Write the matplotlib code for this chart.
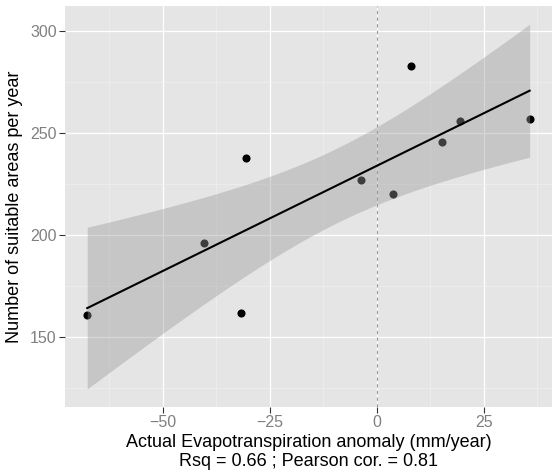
import matplotlib
matplotlib.use('Agg')
import matplotlib.pyplot as plt
import numpy as np

# данные
aet_anomaly = [-67.7, -40.3, -31.7, -30.7, -3.6, 3.7, 7.9, 15.3, 19.5, 35.7]
suitable_areas = [160.8, 195.9, 161.9, 237.9, 227.0, 220.0, 283.0, 245.9, 256.0, 257.0]

x_ticks = [-50, -25, 0, 25]
y_ticks = [150, 200, 250, 300]

plt.rcParams['font.family'] = ['Liberation Sans', 'DejaVu Sans']

x = np.array(aet_anomaly)
y = np.array(suitable_areas)
n = len(x)

# линейная регрессия + 95% доверительный интервал (как geom_smooth(method='lm'))
b, a = np.polyfit(x, y, 1)
xs = np.linspace(x.min(), x.max(), 200)
fit = a + b * xs
resid = y - (a + b * x)
s = np.sqrt(np.sum(resid ** 2) / (n - 2))
t_crit = 2.306  # t(0.975, df=8)
se = s * np.sqrt(1 / n + (xs - x.mean()) ** 2 / np.sum((x - x.mean()) ** 2))

fig = plt.figure(figsize=(5.53, 4.74), dpi=100)
ax = fig.add_axes([0.1175, 0.1414, 0.8805, 0.8456])
ax.set_facecolor('#E5E5E5')

ax.set_xticks(x_ticks)
ax.set_yticks(y_ticks)
ax.set_xticks([-62.5, -37.5, -12.5, 12.5, 37.5], minor=True)
ax.set_yticks([125, 175, 225, 275], minor=True)
ax.grid(True, which='major', color='white', lw=0.9)
ax.grid(True, which='minor', color='#F0F0F0', lw=0.5)
ax.set_axisbelow(True)

ax.axvline(0, color='#999999', lw=0.8, ls=(0, (3, 3)), zorder=1)
ax.scatter(x, y, s=34, color='black', zorder=2, linewidths=0)
ax.fill_between(xs, fit - t_crit * se, fit + t_crit * se,
                color='#999999', alpha=0.4, lw=0, zorder=3)
ax.plot(xs, fit, color='black', lw=1.5, zorder=4)

ax.set_xlim(-72.9, 40.9)
ax.set_ylim(115.7, 312.3)

for sp in ax.spines.values():
    sp.set_visible(False)
ax.tick_params(which='major', length=4, width=0.8, color='#333333',
               labelcolor='#808080', labelsize=11.5, pad=2)
ax.tick_params(which='minor', length=0)

ax.set_xlabel('Actual Evapotranspiration anomaly (mm/year)\n'
              'Rsq = 0.66 ; Pearson cor. = 0.81',
              fontsize=13, linespacing=1.1, labelpad=3)
ax.set_ylabel('Number of suitable areas per year', fontsize=13, labelpad=5)

plt.savefig('out.png', dpi=100)
